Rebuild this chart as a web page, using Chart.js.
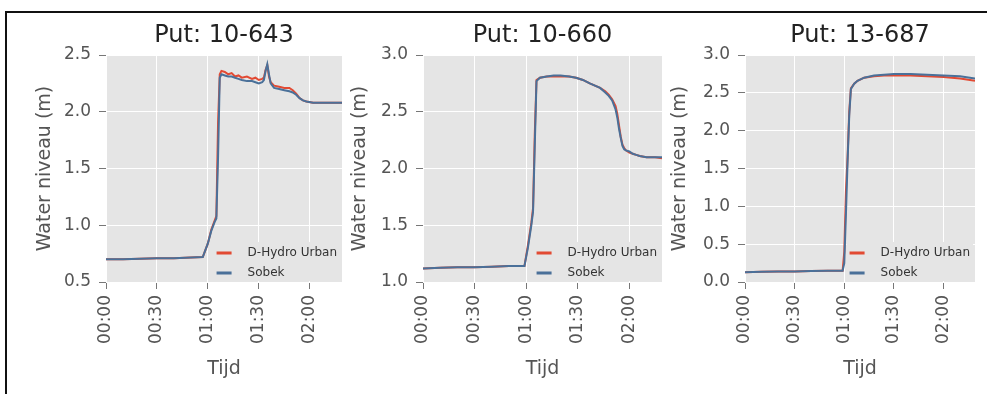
<!DOCTYPE html>
<html>
<head>
<meta charset="utf-8">
<script src="https://cdn.jsdelivr.net/npm/chart.js@4.4.0/dist/chart.umd.min.js"></script>
<style>
html, body { margin: 0; padding: 0; background: #fff; overflow: hidden; width: 987px; height: 394px; }
#kader { position: absolute; left: 5px; top: 11px; width: 982px; height: 383px; border-top: 2px solid #111; border-left: 2px solid #111; box-sizing: border-box; }
canvas { position: absolute; }
</style>
</head>
<body>
<div id="kader"></div>
<canvas id="put643" width="380" height="366" style="left:34px;top:14px"></canvas>
<canvas id="put660" width="387" height="366" style="left:349px;top:14px"></canvas>
<canvas id="put687" width="382" height="366" style="left:669px;top:14px"></canvas>
<script>
// namen van de reeksen en de tijd-as (minuten)
var reeksen = ['D-Hydro Urban', 'Sobek'];
var tijdTicks = [0, 30, 60, 90, 120];

// Put: 10-643
var tijd643 = [0, 10, 20, 30, 40, 50, 57, 60, 62, 64, 65, 66, 67, 68, 70, 72, 74, 76, 78, 80, 83, 86, 88, 90, 92, 93, 94, 95, 96, 97, 99, 102, 105, 108, 110, 112, 114, 116, 118, 122, 130, 139];
var dhydro643 = [0.70, 0.70, 0.705, 0.71, 0.71, 0.715, 0.72, 0.84, 0.96, 1.04, 1.08, 1.90, 2.33, 2.36, 2.35, 2.33, 2.34, 2.31, 2.32, 2.30, 2.31, 2.29, 2.30, 2.28, 2.29, 2.30, 2.37, 2.41, 2.31, 2.26, 2.23, 2.22, 2.21, 2.21, 2.19, 2.16, 2.12, 2.10, 2.09, 2.08, 2.08, 2.08];
var sobek643 = [0.70, 0.70, 0.705, 0.71, 0.71, 0.715, 0.72, 0.84, 0.95, 1.03, 1.06, 1.60, 2.30, 2.33, 2.32, 2.31, 2.31, 2.30, 2.29, 2.28, 2.27, 2.27, 2.26, 2.25, 2.26, 2.28, 2.36, 2.42, 2.33, 2.25, 2.21, 2.20, 2.19, 2.18, 2.17, 2.15, 2.12, 2.10, 2.09, 2.08, 2.08, 2.08];
var yTicks643 = [0.5, 1.0, 1.5, 2.0, 2.5];

// Put: 10-660
var tijd660 = [0, 10, 20, 30, 40, 50, 59, 61, 63, 64, 65, 66, 68, 72, 76, 80, 85, 89, 93, 97, 100, 103, 106, 108, 110, 112, 113, 114, 115, 116, 117, 118, 120, 122, 124, 126, 130, 135, 139];
var dhydro660 = [1.12, 1.125, 1.13, 1.13, 1.135, 1.14, 1.14, 1.32, 1.52, 1.65, 2.30, 2.78, 2.80, 2.81, 2.81, 2.81, 2.81, 2.80, 2.78, 2.75, 2.73, 2.71, 2.68, 2.65, 2.61, 2.55, 2.48, 2.38, 2.28, 2.21, 2.18, 2.16, 2.14, 2.13, 2.12, 2.11, 2.10, 2.10, 2.09];
var sobek660 = [1.12, 1.125, 1.13, 1.13, 1.135, 1.14, 1.14, 1.30, 1.50, 1.62, 2.20, 2.77, 2.80, 2.81, 2.82, 2.82, 2.81, 2.80, 2.78, 2.75, 2.73, 2.71, 2.67, 2.64, 2.60, 2.52, 2.45, 2.35, 2.27, 2.20, 2.17, 2.16, 2.15, 2.13, 2.12, 2.11, 2.10, 2.10, 2.10];
var yTicks660 = [1.0, 1.5, 2.0, 2.5, 3.0];

// Put: 13-687
var tijd687 = [0, 10, 20, 30, 40, 50, 59, 60, 61, 62, 63, 64, 66, 68, 72, 78, 84, 90, 100, 110, 120, 130, 139];
var dhydro687 = [0.13, 0.135, 0.14, 0.14, 0.145, 0.15, 0.15, 0.40, 1.20, 1.65, 2.25, 2.56, 2.62, 2.66, 2.70, 2.72, 2.73, 2.73, 2.73, 2.72, 2.71, 2.69, 2.66];
var sobek687 = [0.13, 0.135, 0.14, 0.14, 0.145, 0.15, 0.15, 0.25, 0.90, 1.60, 2.20, 2.55, 2.62, 2.66, 2.70, 2.73, 2.74, 2.75, 2.75, 2.74, 2.73, 2.72, 2.69];
var yTicks687 = [0.0, 0.5, 1.0, 1.5, 2.0, 2.5, 3.0];

function uurMinuut(v) {
    var h = Math.floor(v / 60), m = v % 60;
    return (h < 10 ? '0' : '') + h + ':' + (m < 10 ? '0' : '') + m;
}

// grijze achtergrond van het plotvlak
var achtergrond = {
    id: 'achtergrond',
    beforeDraw: function(chart) {
        var a = chart.chartArea, c = chart.ctx;
        c.save();
        c.fillStyle = '#E5E5E5';
        c.fillRect(a.left, a.top, a.right - a.left, a.bottom - a.top);
        c.restore();
    }
};

// legenda rechtsonder in het plotvlak
var legenda = {
    id: 'legenda',
    afterDatasetsDraw: function(chart) {
        var a = chart.chartArea, c = chart.ctx, ds = chart.data.datasets;
        c.save();
        c.font = '12px "DejaVu Sans"';
        var breed = 0;
        ds.forEach(function(d) { breed = Math.max(breed, c.measureText(d.label).width); });
        var tekstX = a.right - 5 - breed;
        var lijnEind = tekstX - 16, lijnBegin = lijnEind - 15;
        var rij = 20, onder = a.bottom - 9;
        var boven = onder - rij * (ds.length - 1) - 11;
        c.fillStyle = '#E5E5E5';
        c.fillRect(lijnBegin - 3, boven, a.right - 2 - (lijnBegin - 3), a.bottom - boven - 1);
        ds.forEach(function(d, i) {
            var y = onder - (ds.length - 1 - i) * rij;
            c.fillStyle = d.borderColor;
            c.fillRect(lijnBegin, y - 1.5, lijnEind - lijnBegin, 3);
            c.fillStyle = '#333';
            c.textAlign = 'left';
            c.textBaseline = 'middle';
            c.fillText(d.label, tekstX, y);
        });
        c.restore();
    }
};

function punten(tijd, waarden) {
    return tijd.map(function(t, i) { return { x: t, y: waarden[i] }; });
}

function maakGrafiek(id, titel, tijd, dhydro, sobek, yTicks, asBreedte) {
    var lettertype = 'DejaVu Sans';
    return new Chart(document.getElementById(id), {
        type: 'line',
        data: {
            datasets: [{
                label: reeksen[0],
                data: punten(tijd, dhydro),
                borderColor: '#E24A33',
                borderWidth: 2,
                pointRadius: 0,
                order: 1
            },
            {
                label: reeksen[1],
                data: punten(tijd, sobek),
                borderColor: '#4a7099',
                borderWidth: 2,
                pointRadius: 0,
                order: 0
            }]
        },
        options: {
            responsive: false,
            animation: false,
            devicePixelRatio: 1,
            layout: { padding: 0 },
            plugins: {
                legend: { display: false },
                tooltip: { enabled: false },
                title: {
                    display: true,
                    text: titel,
                    color: '#222',
                    font: { family: lettertype, size: 24, weight: 'normal' },
                    padding: { top: 7, bottom: 5.2 }
                }
            },
            scales: {
                x: {
                    type: 'linear',
                    min: 0,
                    max: 139,
                    afterFit: function(s) { s.height = 98; },
                    afterBuildTicks: function(s) { s.ticks = tijdTicks.map(function(v) { return { value: v }; }); },
                    ticks: {
                        minRotation: 90, maxRotation: 90, autoSkip: false, padding: 6,
                        color: '#555', font: { family: lettertype, size: 17 },
                        callback: function(v) { return uurMinuut(v); }
                    },
                    grid: { color: '#fff', lineWidth: 1, tickColor: '#777', tickLength: 7 },
                    border: { display: false },
                    title: { display: true, text: 'Tijd', color: '#555', font: { family: lettertype, size: 19 }, padding: 0 }
                },
                y: {
                    min: yTicks[0],
                    max: yTicks[yTicks.length - 1],
                    afterFit: function(s) { s.width = asBreedte; },
                    afterBuildTicks: function(s) { s.ticks = yTicks.map(function(v) { return { value: v }; }); },
                    ticks: {
                        padding: 8, color: '#555', font: { family: lettertype, size: 17 },
                        callback: function(v) { return v.toFixed(1); }
                    },
                    grid: { color: '#fff', lineWidth: 1, tickColor: '#777', tickLength: 7 },
                    border: { display: false },
                    title: { display: true, text: 'Water niveau (m)', color: '#555', font: { family: lettertype, size: 19 }, padding: 0 }
                },
                // lege as rechts zodat de titel boven het plotvlak gecentreerd staat
                rechts: {
                    position: 'right',
                    min: 0,
                    max: 1,
                    afterFit: function(s) { s.width = asBreedte; },
                    ticks: { display: false },
                    grid: { display: false },
                    border: { display: false }
                }
            }
        },
        plugins: [achtergrond, legenda]
    });
}

maakGrafiek('put643', 'Put: 10-643', tijd643, dhydro643, sobek643, yTicks643, 72);
maakGrafiek('put660', 'Put: 10-660', tijd660, dhydro660, sobek660, yTicks660, 74);
maakGrafiek('put687', 'Put: 13-687', tijd687, dhydro687, sobek687, yTicks687, 76);
</script>
</body>
</html>
